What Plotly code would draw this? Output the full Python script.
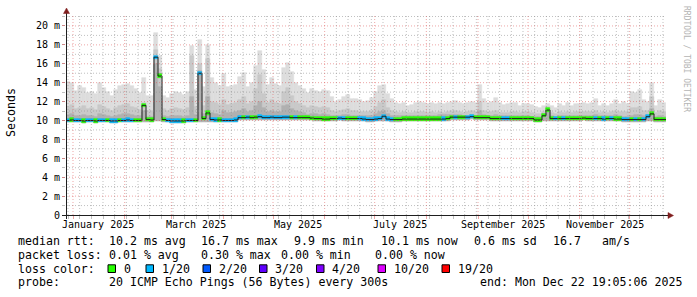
import plotly.graph_objects as go
from datetime import datetime, timedelta

# ---------------- data ----------------
START = datetime(2024, 12, 27, 19, 5, 6)
END = datetime(2025, 12, 22, 19, 5, 6)

# maximum ping per step (ms)
top = [14.1, 14.0, 13.1, 13.6, 13.4, 12.9, 13.0, 12.8, 14.0, 13.4,
       13.0, 12.6, 13.2, 13.6, 13.8, 13.9, 13.6, 13.3, 12.9, 14.5,
       12.6, 12.6, 19.3, 16.8, 12.6, 12.4, 12.8, 13.0, 12.9, 12.7,
       13.0, 17.9, 13.2, 18.5, 13.5, 18.0, 14.5, 14.0, 13.6, 14.9,
       13.5, 13.6, 13.8, 14.6, 15.0, 13.5, 14.0, 15.8, 17.3, 15.3,
       13.8, 14.5, 13.9, 13.6, 15.6, 16.1, 15.1, 14.0, 13.6, 13.3,
       12.9, 13.3, 13.1, 13.0, 13.2, 13.1, 12.5, 12.0, 12.2, 12.5,
       12.7, 12.3, 12.3, 12.2, 12.0, 12.1, 12.4, 13.0, 13.6, 13.8,
       12.8, 12.3, 11.9, 11.7, 11.9, 11.5, 11.6, 11.8, 12.0, 11.9,
       11.7, 11.8, 11.7, 11.9, 11.7, 11.9, 12.0, 12.1, 11.9, 11.7,
       11.9, 12.0, 11.9, 13.8, 12.3, 11.9, 12.0, 12.4, 11.8, 11.6,
       11.7, 11.8, 11.8, 11.5, 11.7, 11.7, 11.6, 11.4, 11.3, 11.5,
       11.7, 11.5, 11.3, 11.7, 11.5, 11.9, 11.5, 11.7, 11.7, 11.9,
       11.7, 11.9, 12.3, 11.5, 11.7, 11.5, 11.7, 12.2, 11.7, 12.0,
       11.7, 13.0, 12.9, 13.2, 12.2, 12.0, 14.0, 11.5, 12.2, 11.9]

# upper edge of the middle smoke band (ms)
q3 = [11.4, 11.6, 11.2, 11.3, 11.5, 11.2, 11.3, 11.1, 11.6, 11.4,
      11.2, 11.0, 11.3, 11.5, 11.6, 11.7, 11.4, 11.3, 11.1, 11.8,
      11.0, 11.0, 17.5, 15.5, 11.2, 11.0, 11.2, 11.3, 11.2, 11.1,
      11.3, 16.8, 11.4, 16.0, 11.5, 16.5, 12.0, 11.8, 11.6, 12.2,
      11.6, 11.7, 11.8, 12.2, 12.5, 11.7, 12.0, 13.3, 14.8, 12.8,
      11.8, 12.2, 11.9, 11.7, 13.0, 13.4, 12.6, 12.0, 11.7, 11.5,
      11.3, 11.5, 11.4, 11.3, 11.4, 11.3, 11.0, 10.9, 11.0, 11.1,
      11.2, 11.0, 11.0, 10.9, 10.9, 10.9, 11.0, 11.4, 11.8, 12.2,
      11.3, 11.0, 10.9, 10.8, 10.9, 10.8, 10.8, 10.9, 10.9, 10.9,
      10.8, 10.9, 10.8, 10.9, 10.8, 10.9, 11.0, 11.0, 10.9, 10.8,
      10.9, 11.0, 10.9, 12.0, 11.0, 10.9, 10.9, 11.0, 10.8, 10.8,
      10.8, 10.9, 10.9, 10.8, 10.9, 10.9, 10.8, 10.7, 10.7, 10.9,
      11.4, 10.8, 10.7, 10.9, 10.8, 10.9, 10.8, 10.9, 10.9, 10.9,
      10.9, 10.9, 11.0, 10.8, 10.9, 10.8, 10.9, 11.0, 10.9, 10.9,
      10.9, 11.3, 11.3, 11.4, 11.0, 11.0, 12.5, 10.8, 11.0, 10.9]

# upper edge of the inner (dark) smoke band (ms)
q2 = [10.6, 10.7, 10.5, 10.5, 10.6, 10.5, 10.5, 10.4, 10.7, 10.6,
      10.5, 10.4, 10.5, 10.6, 10.7, 10.7, 10.6, 10.5, 10.5, 11.0,
      10.4, 10.4, 16.0, 13.5, 10.5, 10.4, 10.5, 10.5, 10.5, 10.4,
      10.5, 12.5, 10.6, 15.2, 10.7, 12.5, 10.8, 10.7, 10.6, 11.0,
      10.8, 10.8, 10.9, 11.0, 11.2, 10.9, 11.0, 11.5, 12.0, 11.3,
      10.9, 11.0, 10.9, 10.9, 11.5, 11.6, 11.2, 11.0, 10.9, 10.8,
      10.6, 10.7, 10.7, 10.6, 10.7, 10.6, 10.5, 10.5, 10.5, 10.6,
      10.6, 10.5, 10.5, 10.5, 10.5, 10.5, 10.5, 10.7, 10.9, 11.0,
      10.7, 10.5, 10.5, 10.5, 10.5, 10.5, 10.5, 10.5, 10.5, 10.5,
      10.5, 10.5, 10.5, 10.6, 10.6, 10.6, 10.6, 10.6, 10.6, 10.5,
      10.5, 10.6, 10.5, 11.0, 10.6, 10.5, 10.5, 10.6, 10.5, 10.5,
      10.5, 10.5, 10.5, 10.5, 10.5, 10.5, 10.4, 10.4, 10.4, 10.7,
      11.1, 10.5, 10.4, 10.5, 10.5, 10.5, 10.5, 10.5, 10.5, 10.5,
      10.5, 10.5, 10.6, 10.5, 10.5, 10.5, 10.5, 10.6, 10.5, 10.4,
      10.4, 10.5, 10.6, 10.6, 10.5, 10.6, 11.2, 10.4, 10.5, 10.4]

# minimum ping per step (ms)
low = [9.80, 9.85, 9.80, 9.80, 9.75, 9.80, 9.80, 9.75, 9.80, 9.80,
       9.80, 9.75, 9.75, 9.80, 9.80, 9.85, 9.80, 9.80, 9.80, 9.85,
       9.85, 9.85, 9.90, 9.90, 9.85, 9.80, 9.75, 9.75, 9.75, 9.75,
       9.80, 9.80, 9.80, 9.85, 9.85, 9.85, 9.85, 9.85, 9.85, 9.80,
       9.80, 9.80, 9.85, 10.05, 10.05, 10.10, 10.05, 10.10, 10.10, 10.05,
       10.05, 10.10, 10.05, 10.05, 10.10, 10.10, 10.05, 10.05, 10.05, 10.05,
       10.05, 10.00, 9.95, 9.95, 9.90, 9.90, 9.95, 9.95, 10.00, 9.95,
       9.95, 9.95, 9.95, 9.95, 9.90, 9.85, 9.85, 9.90, 9.95, 9.95,
       9.90, 9.85, 9.85, 9.85, 9.90, 9.90, 9.90, 9.90, 9.90, 9.90,
       9.90, 9.90, 9.90, 9.90, 9.90, 9.95, 10.10, 10.10, 10.10, 10.10,
       10.10, 10.15, 10.05, 10.05, 10.05, 10.05, 9.95, 9.95, 9.95, 9.95,
       9.95, 9.95, 9.95, 9.95, 9.95, 9.95, 9.95, 9.80, 9.80, 9.95,
       9.95, 9.95, 9.95, 9.95, 9.95, 9.95, 9.95, 9.95, 9.95, 10.00,
       9.95, 9.95, 9.95, 9.95, 9.90, 9.95, 9.95, 9.90, 9.90, 9.85,
       9.85, 9.85, 9.85, 9.85, 9.85, 9.95, 9.95, 9.85, 9.85, 9.85]

# median rtt per step (ms)
median = [10.00, 10.05, 10.00, 10.00, 9.95, 10.00, 10.00, 9.95, 10.00, 10.00,
          10.00, 9.95, 9.95, 10.00, 10.00, 10.05, 10.00, 10.00, 10.00, 11.60,
          10.10, 10.05, 16.70, 14.70, 10.10, 10.00, 9.95, 9.95, 9.95, 9.95,
          10.00, 10.00, 10.00, 15.00, 10.20, 10.80, 10.10, 10.05, 10.05, 10.00,
          10.00, 10.00, 10.05, 10.30, 10.30, 10.35, 10.30, 10.35, 10.40, 10.30,
          10.30, 10.35, 10.30, 10.30, 10.35, 10.35, 10.30, 10.30, 10.30, 10.30,
          10.30, 10.25, 10.20, 10.20, 10.15, 10.15, 10.20, 10.20, 10.25, 10.20,
          10.20, 10.20, 10.20, 10.20, 10.15, 10.10, 10.10, 10.15, 10.20, 10.45,
          10.15, 10.10, 10.10, 10.10, 10.15, 10.15, 10.15, 10.15, 10.15, 10.15,
          10.15, 10.15, 10.15, 10.15, 10.15, 10.20, 10.35, 10.35, 10.35, 10.35,
          10.35, 10.40, 10.30, 10.30, 10.30, 10.30, 10.20, 10.20, 10.20, 10.20,
          10.20, 10.20, 10.20, 10.20, 10.20, 10.20, 10.20, 10.05, 10.05, 10.50,
          11.10, 10.20, 10.20, 10.20, 10.20, 10.20, 10.20, 10.20, 10.20, 10.25,
          10.20, 10.20, 10.20, 10.20, 10.15, 10.20, 10.20, 10.15, 10.15, 10.10,
          10.10, 10.10, 10.10, 10.10, 10.10, 10.40, 10.70, 10.10, 10.10, 10.10]

# lost pings out of 20 per step
loss = [1, 0, 1, 1, 0, 1, 1, 0, 1, 1,
        0, 1, 1, 0, 1, 1, 1, 0, 0, 0,
        0, 0, 1, 0, 0, 1, 1, 1, 1, 0,
        1, 1, 0, 1, 0, 0, 1, 1, 0, 1,
        1, 1, 1, 1, 0, 1, 0, 0, 1, 1,
        1, 1, 1, 1, 1, 1, 0, 1, 0, 0,
        0, 0, 0, 0, 0, 0, 0, 0, 1, 1,
        0, 0, 0, 1, 1, 1, 1, 1, 1, 1,
        1, 1, 0, 0, 0, 0, 0, 0, 0, 0,
        0, 0, 0, 0, 1, 0, 0, 1, 0, 0,
        1, 1, 0, 0, 0, 0, 0, 0, 0, 1,
        1, 0, 0, 0, 0, 0, 0, 0, 0, 0,
        0, 0, 1, 0, 1, 0, 0, 0, 0, 0,
        0, 0, 1, 0, 1, 0, 1, 0, 0, 1,
        1, 0, 1, 0, 1, 1, 0, 0, 0, 0]

y_tick_vals = [0, 2, 4, 6, 8, 10, 12, 14, 16, 18, 20]
y_tick_text = ["0", "2 m", "4 m", "6 m", "8 m", "10 m", "12 m", "14 m", "16 m", "18 m", "20 m"]
x_label_dates = ["2025-01-16", "2025-03-16", "2025-05-16", "2025-07-16", "2025-09-16", "2025-11-16"]
x_label_text = ["January 2025", "March 2025", "May 2025", "July 2025", "September 2025", "November 2025"]

loss_levels = [0, 1, 2, 3, 4, 10, 19]
loss_labels = ["0", "1/20", "2/20", "3/20", "4/20", "10/20", "19/20"]
loss_colors = ["#26ff00", "#00b8ff", "#0059ff", "#5e00ff", "#7e00ff", "#dd00ff", "#ff0000"]

legend_rows = [
    [("median rtt:", 16), ("10.2 ms avg", 107), ("16.7 ms max", 199), ("9.9 ms min", 292),
     ("10.1 ms now", 379), ("0.6 ms sd", 472), ("16.7", 551), ("am/s", 600)],
    [("packet loss:", 16), ("0.01 % avg", 107), ("0.30 % max", 199), ("0.00 % min", 279),
     ("0.00 % now", 373)],
    [("loss color:", 16)],
    [("probe:", 16), ("20 ICMP Echo Pings (56 Bytes) every 300s", 107),
     ("end: Mon Dec 22 19:05:06 2025", 478)],
]
legend_row_y = [240.7, 254.8, 268.5, 282.0]
loss_box_x = [108, 146, 203, 259.5, 316.5, 378, 442]

# ---------------- layout helpers ----------------
W, H = 697, 297
L, R, T, B = 66, 666, 15, 215
FONT = "DejaVu Sans Mono"
GRID = "rgba(140,140,140,0.55)"
MGRID = "rgba(222,79,79,0.5)"
ARROW = "#801f1f"
AXIS = "#1f1f1f"
DOTS = "1px,2px"


def px(x):
    return (x - L) / (R - L)


def py(y):
    return (B - y) / (B - T)


N = len(top)
step = (END - START) / N
edges = [START + step * i for i in range(N + 1)]
centers = [START + step * (i + 0.5) for i in range(N)]
wms = step.total_seconds() * 1000.0

fig = go.Figure()


def band(lo, hi, color):
    fig.add_trace(go.Bar(
        x=centers, base=lo, y=[h - l for h, l in zip(hi, lo)], width=wms,
        marker=dict(color=color, line=dict(width=0.6, color=color)),
        hoverinfo="skip", showlegend=False))


band(low, top, "#dddddd")
band(low, q3, "#c9c9c9")
band(low, q2, "#b0b0b0")

# thin dark median line
fig.add_trace(go.Scatter(
    x=edges, y=median + [median[-1]], mode="lines",
    line=dict(color="#202020", width=1, shape="hv"),
    hoverinfo="skip", showlegend=False))

# loss-coloured median marks
cmap = dict(zip(loss_levels, loss_colors))
half = 0.17
fig.add_trace(go.Bar(
    x=centers, base=[m - half for m in median], y=[2 * half] * N, width=wms,
    marker=dict(color=[cmap[v] for v in loss], line=dict(width=0.6, color=[cmap[v] for v in loss])),
    hoverinfo="skip", showlegend=False))

shapes = []
annotations = []

# grid drawn on top of the graph (as rrdtool does)
week = START.replace(hour=0, minute=0, second=0) + timedelta(days=2)  # first Sunday
month_starts = [datetime(2025, m, 1) for m in range(1, 13)]
while week < END:
    if week not in month_starts:
        shapes.append(dict(type="line", xref="x", yref="paper", x0=week, x1=week, y0=0, y1=1,
                           line=dict(color=GRID, width=1, dash=DOTS), layer="above"))
    week += timedelta(days=7)
for v in range(1, 22):
    if v % 2:
        shapes.append(dict(type="line", xref="paper", yref="y", x0=0, x1=1, y0=v, y1=v,
                           line=dict(color=GRID, width=1, dash=DOTS), layer="above"))
for v in y_tick_vals[1:]:
    shapes.append(dict(type="line", xref="paper", yref="y", x0=0, x1=1, y0=v, y1=v,
                       line=dict(color=MGRID, width=1, dash=DOTS), layer="above"))
for m in month_starts:
    shapes.append(dict(type="line", xref="x", yref="paper", x0=m, x1=m, y0=0, y1=1,
                       line=dict(color=MGRID, width=1, dash=DOTS), layer="above"))

# axes with arrows
shapes.append(dict(type="line", xref="paper", yref="paper", x0=px(62), x1=px(669), y0=py(215.5), y1=py(215.5),
                   line=dict(color=AXIS, width=1), layer="above"))
shapes.append(dict(type="line", xref="paper", yref="paper", x0=px(66.5), x1=px(66.5), y0=py(219), y1=py(12),
                   line=dict(color=AXIS, width=1), layer="above"))
shapes.append(dict(type="path", xref="paper", yref="paper",
                   path="M {} {} L {} {} L {} {} Z".format(px(668), py(212.5), px(673.5), py(215.5), px(668), py(218.5)),
                   fillcolor=ARROW, line=dict(color=ARROW, width=0.5), layer="above"))
shapes.append(dict(type="path", xref="paper", yref="paper",
                   path="M {} {} L {} {} L {} {} Z".format(px(63.5), py(13.5), px(66.5), py(8), px(69.5), py(13.5)),
                   fillcolor=ARROW, line=dict(color=ARROW, width=0.5), layer="above"))

# x labels
for d, t in zip(x_label_dates, x_label_text):
    annotations.append(dict(x=d, xref="x", y=py(224.5), yref="paper", text=t, showarrow=False,
                            xanchor="center", yanchor="middle", font=dict(family=FONT, size=10, color="black")))

# y axis title
annotations.append(dict(x=px(11), y=py(113), xref="paper", yref="paper", text="Seconds", textangle=-90,
                        showarrow=False, xanchor="center", yanchor="middle",
                        font=dict(family=FONT, size=11.6, color="black")))

# watermark
annotations.append(dict(x=px(686), y=py(59), xref="paper", yref="paper", text="RRDTOOL / TOBI OETIKER",
                        textangle=90, showarrow=False, xanchor="center", yanchor="middle",
                        font=dict(family=FONT, size=8, color="#b4b4b4")))

# legend rows
for row, yy in zip(legend_rows, legend_row_y):
    for txt, xx in row:
        annotations.append(dict(x=px(xx), y=py(yy), xref="paper", yref="paper", text=txt.replace(" ", "&nbsp;"),
                                showarrow=False, xanchor="left", yanchor="middle",
                                font=dict(family=FONT, size=11.6, color="black")))

for bx, lab, col in zip(loss_box_x, loss_labels, loss_colors):
    shapes.append(dict(type="rect", xref="paper", yref="paper", x0=px(bx), x1=px(bx + 7.5),
                       y0=py(272.5), y1=py(264.8), fillcolor=col, line=dict(color="black", width=1)))
    annotations.append(dict(x=px(bx + 13.5), y=py(legend_row_y[2]), xref="paper", yref="paper", text=lab,
                            showarrow=False, xanchor="left", yanchor="middle",
                            font=dict(family=FONT, size=11.6, color="black")))

fig.update_layout(
    width=W, height=H,
    margin=dict(l=L, r=W - R, t=T, b=H - B, pad=0),
    paper_bgcolor="white", plot_bgcolor="white",
    showlegend=False, barmode="overlay", bargap=0, bargroupgap=0,
    font=dict(family=FONT, size=10, color="black"),
    xaxis=dict(type="date", range=[START, END], showgrid=False,
               tickmode="linear", tick0="2025-01-01", dtick="M1", showticklabels=False,
               ticks="outside", ticklen=3, tickcolor=MGRID,
               minor=dict(dtick=7 * 86400000, tick0="2024-12-29", showgrid=False,
                          ticks="outside", ticklen=3, tickcolor=GRID),
               showline=False, zeroline=False, fixedrange=True),
    yaxis=dict(range=[0, 21.16], tickmode="array", tickvals=y_tick_vals, ticktext=y_tick_text,
               showgrid=False, ticks="outside", ticklen=3, tickcolor=MGRID,
               minor=dict(dtick=1, tick0=0, showgrid=False, ticks="outside", ticklen=3, tickcolor=GRID),
               tickfont=dict(family=FONT, size=10, color="black"),
               zeroline=False, showline=False, fixedrange=True),
    shapes=shapes, annotations=annotations,
)

fig.write_html("out.html")
